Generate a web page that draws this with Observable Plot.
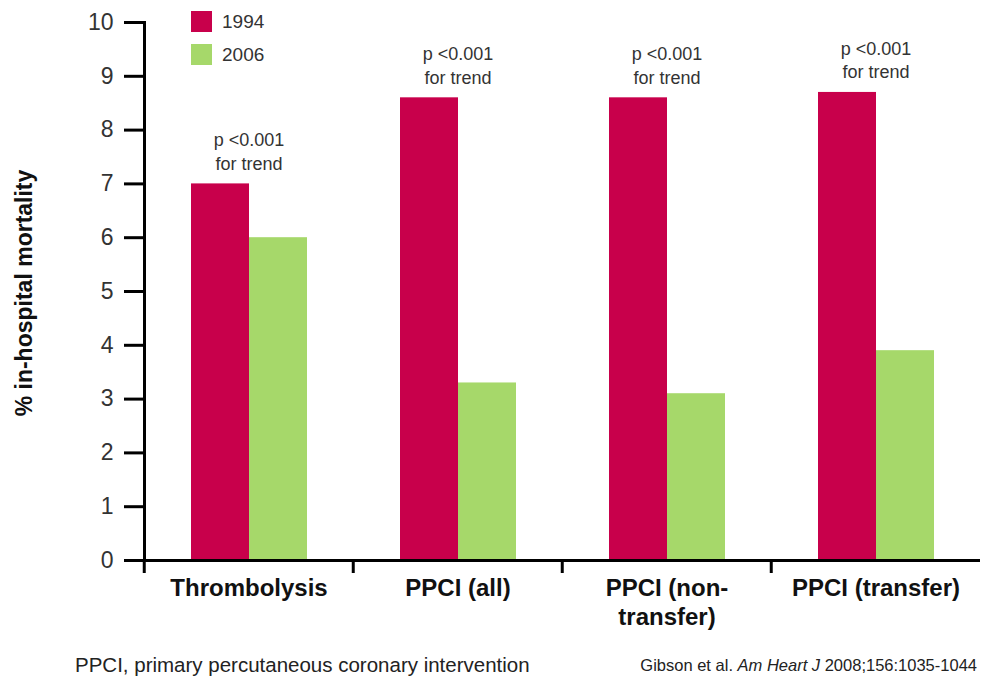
<!DOCTYPE html>
<html>
<head>
<meta charset="utf-8">
<script src="https://cdn.jsdelivr.net/npm/d3@7"></script>
<script src="https://cdn.jsdelivr.net/npm/@observablehq/plot@0.6"></script>
<style>
  html, body { margin: 0; padding: 0; background: #fff; }
  #wrap { position: relative; width: 981px; height: 681px; font-family: "Liberation Sans", Arial, sans-serif; overflow: hidden; }
  #legend { position: absolute; left: 191px; top: 11px; }
  .lg-row { display: flex; align-items: center; height: 21px; margin-bottom: 12px; }
  .lg-sw { width: 21px; height: 21px; margin-right: 10px; }
  .lg-tx { font-size: 19px; color: #333; }
  #ylabel { position: absolute; left: 24px; top: 293px; transform: translate(-50%, -50%) rotate(-90deg);
            white-space: nowrap; font-size: 23px; font-weight: bold; color: #111; }
  #footer { position: absolute; left: 0; top: 653px; width: 981px; height: 28px; }
  #foot-left { position: absolute; left: 75px; top: 0; font-size: 20.5px; color: #222; }
  #foot-right { position: absolute; right: 4px; top: 3px; font-size: 16.5px; color: #222; }
</style>
</head>
<body>
<div id="wrap">
  <div id="chart"></div>
  <div id="legend"></div>
  <div id="ylabel"></div>
  <div id="footer">
    <div id="foot-left"></div>
    <div id="foot-right"></div>
  </div>
</div>
<script>
// ---- data ----
const categories = ["Thrombolysis", "PPCI (all)", "PPCI (non-transfer)", "PPCI (transfer)"];
const categoryLabels = ["Thrombolysis", "PPCI (all)", "PPCI (non-\ntransfer)", "PPCI (transfer)"];
const years = ["1994", "2006"];
const mortality1994 = [7.0, 8.6, 8.6, 8.7];
const mortality2006 = [6.0, 3.3, 3.1, 3.9];
const trendLabels = ["p <0.001\nfor trend", "p <0.001\nfor trend", "p <0.001\nfor trend", "p <0.001\nfor trend"];
const yTicks = [0, 1, 2, 3, 4, 5, 6, 7, 8, 9, 10];
const yearColors = ["#C8004B", "#A6D86A"];
const yLabel = "% in-hospital mortality";
const footnote = "PPCI, primary percutaneous coronary intervention";

// ---- tables ----
const rows = [];
categories.forEach((c, i) => {
  rows.push({category: c, year: years[0], value: mortality1994[i]});
  rows.push({category: c, year: years[1], value: mortality2006[i]});
});
const annotations = categories.map((c, i) => ({category: c, value: Math.max(mortality1994[i], mortality2006[i]), text: trendLabels[i]}));
const labelOf = new Map(categories.map((c, i) => [c, categoryLabels[i]]));

const W = 981, H = 645, mL = 143, mR = 0, mT = 22, mB = 85;
const facetW = (W - mL - mR) / categories.length;

const chart = Plot.plot({
  width: W,
  height: H,
  marginLeft: mL,
  marginRight: mR,
  marginTop: mT,
  marginBottom: mB,
  style: {fontFamily: "'Liberation Sans', Arial, sans-serif", background: "#fff"},
  fx: {domain: categories, padding: 0, label: null},
  x: {domain: years, paddingInner: 0, paddingOuter: 0.78, align: 0.5, axis: null},
  y: {domain: [0, 10]},
  color: {domain: years, range: yearColors},
  marks: [
    Plot.barY(rows, {fx: "category", x: "year", y: "value", fill: "year"}),
    Plot.frame({anchor: "left", facetAnchor: "left", strokeWidth: 3, stroke: "#000"}),
    Plot.ruleY([0], {strokeWidth: 3, stroke: "#000"}),
    Plot.axisY({ticks: yTicks, tickSize: 20, tickPadding: 11, strokeWidth: 3, stroke: "#000",
      fontSize: 23, fill: "#333", label: null}),
    Plot.text(annotations, {fx: "category", y: "value", text: "text", lineAnchor: "bottom", dy: -14,
      fontSize: 18, lineHeight: 1.33, fill: "#333"}),
    Plot.axisFx({anchor: "bottom", tickSize: 0, tickPadding: 16, label: null,
      tickFormat: d => labelOf.get(d), fontSize: 24, fontWeight: "bold", lineHeight: 1.17, fill: "#111"}),
    Plot.axisFx({anchor: "bottom", text: null, label: null, tickSize: 13, strokeWidth: 3, stroke: "#000", dx: -facetW / 2})
  ]
});
document.getElementById("chart").appendChild(chart);

// y label
d3.select("#ylabel").text(yLabel);

// legend
const legend = d3.select("#legend");
years.forEach((y, i) => {
  const row = legend.append("div").attr("class", "lg-row");
  row.append("div").attr("class", "lg-sw").style("background", yearColors[i]);
  row.append("div").attr("class", "lg-tx").text(y);
});

// footer
d3.select("#foot-left").text(footnote);
const fr = d3.select("#foot-right");
fr.append("span").text("Gibson et al. ");
fr.append("i").text("Am Heart J");
fr.append("span").text(" 2008;156:1035-1044");
</script>
</body>
</html>
